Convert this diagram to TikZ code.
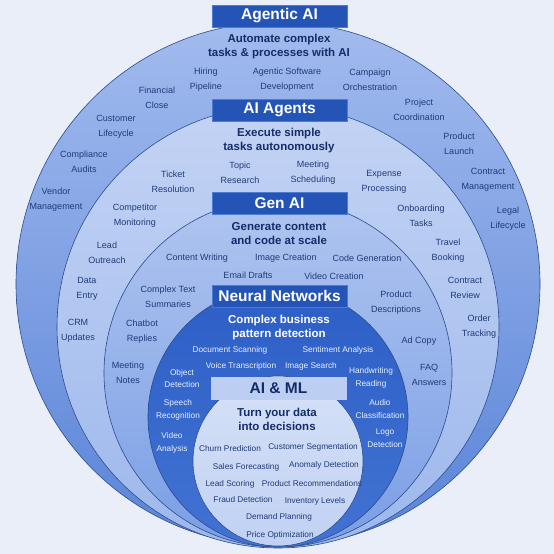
\documentclass[tikz,border=0pt]{standalone}
\usepackage{fontspec}
\setmainfont{Liberation Sans}
\usetikzlibrary{positioning}
\definecolor{bgBlue}{HTML}{E9EEF8}
\definecolor{lineNavy}{HTML}{2B4C8E}
\definecolor{outerTop}{HTML}{A2BBEE}
\definecolor{outerBot}{HTML}{5A84D8}
\definecolor{agentTop}{HTML}{C3D3F4}
\definecolor{agentBot}{HTML}{9DB8EC}
\definecolor{genTop}{HTML}{B0C5F0}
\definecolor{genBot}{HTML}{7A9EE5}
\definecolor{nnTop}{HTML}{2C5EC6}
\definecolor{nnBot}{HTML}{4273D3}
\definecolor{coreTop}{HTML}{D6E1F7}
\definecolor{coreBot}{HTML}{C0D1F3}
\definecolor{boxBlue}{HTML}{2354B6}
\definecolor{boxEdge}{HTML}{4E7BD2}
\definecolor{coreBox}{HTML}{BCCEF2}
\definecolor{labelNavy}{HTML}{1F3B7A}
\definecolor{subNavy}{HTML}{132D69}
\definecolor{nnText}{HTML}{E8EFFF}

\begin{document}
\begin{tikzpicture}[x=1pt, y=-1pt,
    ring/.style={draw=lineNavy, line width=0.6pt},
    titlebox/.style={fill=boxBlue, draw=boxEdge, line width=0.5pt, text=white,
        minimum width=135pt, minimum height=22pt, inner sep=0pt,
        font=\fontsize{15.5}{18}\selectfont\bfseries},
    subtitle/.style={align=center, text=subNavy, font=\fontsize{11.5}{14}\selectfont\bfseries},
    lbl/.style={align=center, text=labelNavy, font=\fontsize{9}{15}\selectfont},
    nnlbl/.style={align=center, text=nnText, font=\fontsize{8.3}{12.5}\selectfont},
    corelbl/.style={align=center, text=labelNavy, font=\fontsize{8.3}{12.5}\selectfont}]
    \useasboundingbox (0,0) rectangle (554,554);
    \fill[bgBlue] (0,0) rectangle (554,554);

    % nested rings, all touching near the bottom
    \coordinate (cOuter) at (278,284);
    \coordinate (cAgent) at (278,327);
    \coordinate (cGen) at (278,373);
    \coordinate (cNN) at (278,417);
    \coordinate (cCore) at (278,461);

    \shade[ring, top color=outerTop, bottom color=outerBot] (cOuter) circle[radius=262pt];
    \shade[ring, top color=agentTop, bottom color=agentBot] (cAgent) circle[radius=221pt];
    \shade[ring, top color=genTop, bottom color=genBot] (cGen) circle[radius=174pt];
    \shade[ring, top color=nnTop, bottom color=nnBot] (cNN) circle[radius=130pt];
    \shade[ring, top color=coreTop, bottom color=coreBot] (cCore) circle[radius=85pt];

    % Agentic AI
    \node[titlebox] (agentic) at (279.5,16) {Agentic AI};
    \node[subtitle] (agenticSub) at (279,46.5) {Automate complex\\tasks \& processes with AI};
    \node[lbl] (hiring) at (206,79.5) {Hiring\\Pipeline};
    \node[lbl] (software) at (287,79.5) {Agentic Software\\Development};
    \node[lbl] (campaign) at (370,79.5) {Campaign\\Orchestration};
    \node[lbl] (financial) at (157,97.5) {Financial\\Close};
    \node[lbl] (customer) at (116,126.5) {Customer\\Lifecycle};
    \node[lbl] (compliance) at (84,161.5) {Compliance\\Audits};
    \node[lbl] (vendor) at (56,199.5) {Vendor\\Management};
    \node[lbl] (project) at (419,109.5) {Project\\Coordination};
    \node[lbl] (launch) at (459,143.5) {Product\\Launch};
    \node[lbl] (contract) at (488,179.5) {Contract\\Management};
    \node[lbl] (legal) at (508,219) {Legal\\Lifecycle};

    % AI Agents
    \node[titlebox] (agents) at (279.5,110) {AI Agents};
    \node[subtitle] (agentsSub) at (279,140.5) {Execute simple\\tasks autonomously};
    \node[lbl] (topic) at (240,172.5) {Topic\\Research};
    \node[lbl] (meeting) at (313,172.5) {Meeting\\Scheduling};
    \node[lbl] (ticket) at (173,181.5) {Ticket\\Resolution};
    \node[lbl] (expense) at (384,181.5) {Expense\\Processing};
    \node[lbl] (competitor) at (135,215.5) {Competitor\\Monitoring};
    \node[lbl] (onboarding) at (421,215.5) {Onboarding\\Tasks};
    \node[lbl] (outreach) at (107,252.5) {Lead\\Outreach};
    \node[lbl] (travel) at (448,250.5) {Travel\\Booking};
    \node[lbl] (entry) at (87,288.5) {Data\\Entry};
    \node[lbl] (review) at (465,287.5) {Contract\\Review};
    \node[lbl] (crm) at (78,330.5) {CRM\\Updates};
    \node[lbl] (order) at (479,326.5) {Order\\Tracking};

    % Gen AI
    \node[titlebox] (gen) at (279.5,203) {Gen AI};
    \node[subtitle] (genSub) at (279,234) {Generate content\\and code at scale};
    \node[lbl] (writing) at (197,258) {Content Writing};
    \node[lbl] (image) at (286,258) {Image Creation};
    \node[lbl] (code) at (367,258) {Code Generation};
    \node[lbl] (email) at (248,275) {Email Drafts};
    \node[lbl] (video) at (334,276) {Video Creation};
    \node[lbl] (summaries) at (168,297) {Complex Text\\Summaries};
    \node[lbl] (descriptions) at (396,303) {Product\\Descriptions};
    \node[lbl] (chatbot) at (142,332) {Chatbot\\Replies};
    \node[lbl] (adcopy) at (419,341) {Ad Copy};
    \node[lbl] (notes) at (128,372.5) {Meeting\\Notes};
    \node[lbl] (faq) at (429,374.5) {FAQ\\Answers};

    % Neural Networks
    \node[titlebox] (nn) at (279.5,296) {Neural Networks};
    \node[subtitle, text=white] (nnSub) at (279,327.5) {Complex business\\pattern detection};
    \node[nnlbl] (scanning) at (230,350) {Document Scanning};
    \node[nnlbl] (sentiment) at (338,350) {Sentiment Analysis};
    \node[nnlbl] (voice) at (241,366) {Voice Transcription};
    \node[nnlbl] (search) at (311,366) {Image Search};
    \node[nnlbl] (object) at (182,378.5) {Object\\Detection};
    \node[nnlbl] (handwriting) at (371,378) {Handwriting\\Reading};
    \node[nnlbl] (speech) at (178,410) {Speech\\Recognition};
    \node[nnlbl] (audio) at (380,409) {Audio\\Classification};
    \node[nnlbl] (videoA) at (172,443) {Video\\Analysis};
    \node[nnlbl] (logo) at (385,438) {Logo\\Detection};

    % AI & ML
    \node[titlebox, fill=coreBox, draw=coreBox, text=subNavy] (core) at (278.5,388.5) {AI \& ML};
    \node[subtitle] (coreSub) at (277,419) {Turn your data\\into decisions};
    \node[corelbl] (churn) at (230,449) {Churn Prediction};
    \node[corelbl] (segment) at (313,447) {Customer Segmentation};
    \node[corelbl] (sales) at (246,467) {Sales Forecasting};
    \node[corelbl] (anomaly) at (324,465) {Anomaly Detection};
    \node[corelbl] (scoring) at (230,484) {Lead Scoring};
    \node[corelbl] (recommend) at (312,484) {Product Recommendations};
    \node[corelbl] (fraud) at (243,500) {Fraud Detection};
    \node[corelbl] (inventory) at (315,501) {Inventory Levels};
    \node[corelbl] (demand) at (279,517) {Demand Planning};
    \node[corelbl] (price) at (280,535) {Price Optimization};
\end{tikzpicture}
\end{document}
